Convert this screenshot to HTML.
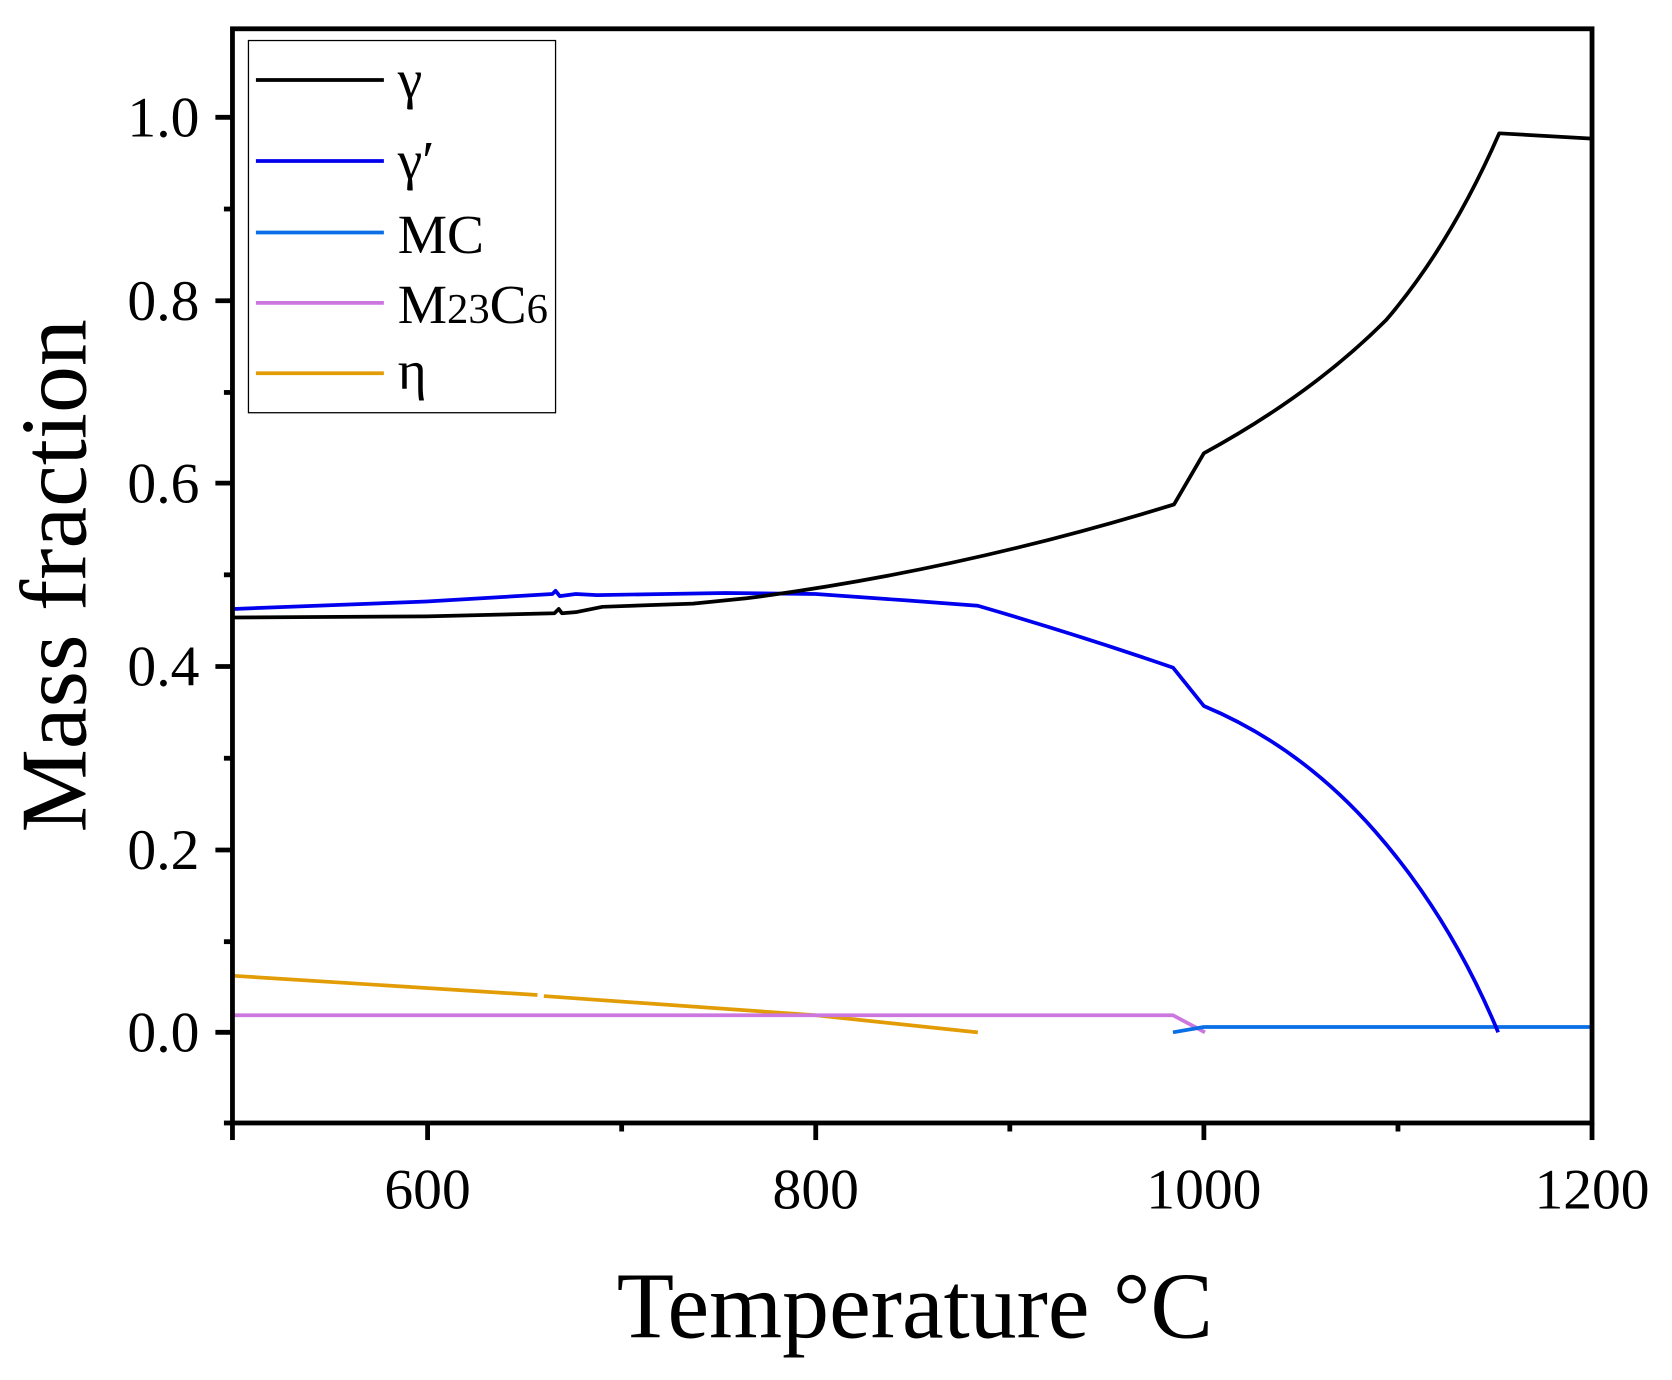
<!DOCTYPE html>
<html><head><meta charset="utf-8"><style>
html,body{margin:0;padding:0;background:#fff;}
svg{display:block;}
text{font-family:"Liberation Serif","DejaVu Serif",serif;fill:#000;}
</style></head><body>
<svg width="1672" height="1380" viewBox="0 0 1568 1294" preserveAspectRatio="none" xmlns="http://www.w3.org/2000/svg">
<rect width="1568" height="1294" fill="#fff"/>
<g fill="none" stroke-width="3.5" stroke-linejoin="round">
<polyline stroke="#e29c06" points="219,915 504,933"/>
<polyline stroke="#e29c06" points="510,934 765,952 917,968"/>
<polyline stroke="#cc77e0" points="219,952 1100,952 1130,968"/>
<polyline stroke="#0a6fe6" points="1100,968 1129,963 1493,963"/>
<path stroke="#0000ee" d="M219,571 L400,564 L518,557 L521,554 L525,559 L540,557 L560,558 L680,556 L765,557 L850,563 L917,568 Q1010,595 1100,626 L1129,662 Q1220,700 1290,780 Q1360,860 1405,968"/>
<path stroke="#000" d="M219,579 L400,578 L520,575 L524,571 L527,575 L540,574 L565,569 L650,566 L700,561 Q900,535 1101,473 L1129,425 Q1230,370 1300,300 Q1360,230 1406,125 L1493,130"/>
</g>
<rect x="218" y="27" width="1275" height="1026" fill="none" stroke="#000" stroke-width="4.5"/>
<g stroke="#000" stroke-width="4.5">
<line x1="218" y1="110" x2="202" y2="110"/><line x1="218" y1="282" x2="202" y2="282"/>
<line x1="218" y1="453" x2="202" y2="453"/><line x1="218" y1="625" x2="202" y2="625"/>
<line x1="218" y1="797" x2="202" y2="797"/><line x1="218" y1="968" x2="202" y2="968"/>
<line x1="218" y1="196" x2="210" y2="196"/><line x1="218" y1="368" x2="210" y2="368"/>
<line x1="218" y1="539" x2="210" y2="539"/><line x1="218" y1="711" x2="210" y2="711"/>
<line x1="218" y1="883" x2="210" y2="883"/><line x1="218" y1="1053" x2="210" y2="1053"/>
<line x1="218" y1="1053" x2="218" y2="1069"/>
<line x1="401" y1="1053" x2="401" y2="1069"/><line x1="765" y1="1053" x2="765" y2="1069"/>
<line x1="1129" y1="1053" x2="1129" y2="1069"/><line x1="1493" y1="1053" x2="1493" y2="1069"/>
<line x1="583" y1="1053" x2="583" y2="1061"/><line x1="947" y1="1053" x2="947" y2="1061"/>
<line x1="1311" y1="1053" x2="1311" y2="1061"/>
</g>
<g font-size="54" text-anchor="end">
<text x="187" y="128">1.0</text><text x="187" y="300">0.8</text>
<text x="187" y="471">0.6</text><text x="187" y="643">0.4</text>
<text x="187" y="815">0.2</text><text x="187" y="986">0.0</text>
</g>
<g font-size="54" text-anchor="middle">
<text x="401" y="1133">600</text><text x="765" y="1133">800</text>
<text x="1129" y="1133">1000</text><text x="1493" y="1133">1200</text>
</g>
<text x="858" y="1254" font-size="88" text-anchor="middle">Temperature °C</text>
<text transform="translate(80,540) rotate(-90)" font-size="88" text-anchor="middle">Mass fraction</text>
<rect x="233" y="38" width="288" height="349" fill="#fff" stroke="#000" stroke-width="1.2"/>
<g stroke-width="3.5">
<line x1="240" y1="75" x2="360" y2="75" stroke="#000"/>
<line x1="240" y1="151" x2="360" y2="151" stroke="#0000ee"/>
<line x1="240" y1="218" x2="360" y2="218" stroke="#0a6fe6"/>
<line x1="240" y1="284" x2="360" y2="284" stroke="#cc77e0"/>
<line x1="240" y1="350" x2="360" y2="350" stroke="#e29c06"/>
</g>
<g font-size="52">
<text x="373" y="92">γ</text>
<text x="373" y="168">γ′</text>
<text x="373" y="237">MC</text>
<text x="373" y="303">M<tspan font-size="40">23</tspan>C<tspan font-size="40">6</tspan></text>
<text x="373" y="365">η</text>
</g>
</svg>
</body></html>
